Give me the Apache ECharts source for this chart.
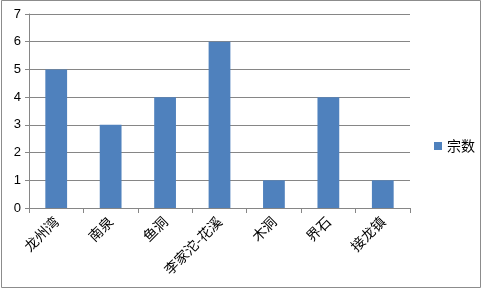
<!DOCTYPE html>
<html><head><meta charset="utf-8">
<script src="https://cdn.jsdelivr.net/npm/echarts@6/dist/echarts.min.js"></script>
<style>html,body{margin:0;padding:0;background:#fff}#c{width:484px;height:291px}</style>
</head><body><div id="c"></div>
<script>
const categories = ['龙州湾','南泉','鱼洞','李家沱-花溪','木洞','界石','接龙镇'];
const seriesName = '宗数';
const values = [5,3,4,6,1,4,1];
const yTicks = [0,1,2,3,4,5,6,7];

const chart = echarts.init(document.getElementById('c'));
chart.setOption({
  animation: false,
  backgroundColor: '#fff',
  graphic: [{type:'rect', shape:{x:1.5,y:0.5,width:479,height:287}, style:{fill:'none', stroke:'#8c8c8c', lineWidth:1}, silent:true}],
  grid: {left:29, right:74, top:14, bottom:83, containLabel:false},
  legend: {
    data:[seriesName], orient:'vertical', left:429, top:134,
    itemWidth:8, itemHeight:8, itemGap:4,
    icon:'rect',
    textStyle:{fontSize:14, color:'#000', fontFamily:'Noto Sans CJK SC'}
  },
  xAxis: {
    type:'category', data:categories, boundaryGap:true,
    axisLine:{lineStyle:{color:'#868686'}},
    axisTick:{show:true, length:5, lineStyle:{color:'#868686'}},
    axisLabel:{rotate:45, margin:11, fontSize:14, color:'#000', fontFamily:'Noto Sans CJK SC', interval:0}
  },
  yAxis: {
    type:'value', min:yTicks[0], max:yTicks[yTicks.length-1], interval:1,
    axisLine:{show:true, lineStyle:{color:'#868686'}},
    axisTick:{show:true, length:4, lineStyle:{color:'#868686'}},
    axisLabel:{fontSize:13, color:'#000', margin:8, fontFamily:'Liberation Sans'},
    splitLine:{lineStyle:{color:'#868686'}}
  },
  series: [{
    name:seriesName, type:'bar', data:values, barWidth:'40%',
    itemStyle:{color:'#4f81bd'}
  }]
});
</script></body></html>
